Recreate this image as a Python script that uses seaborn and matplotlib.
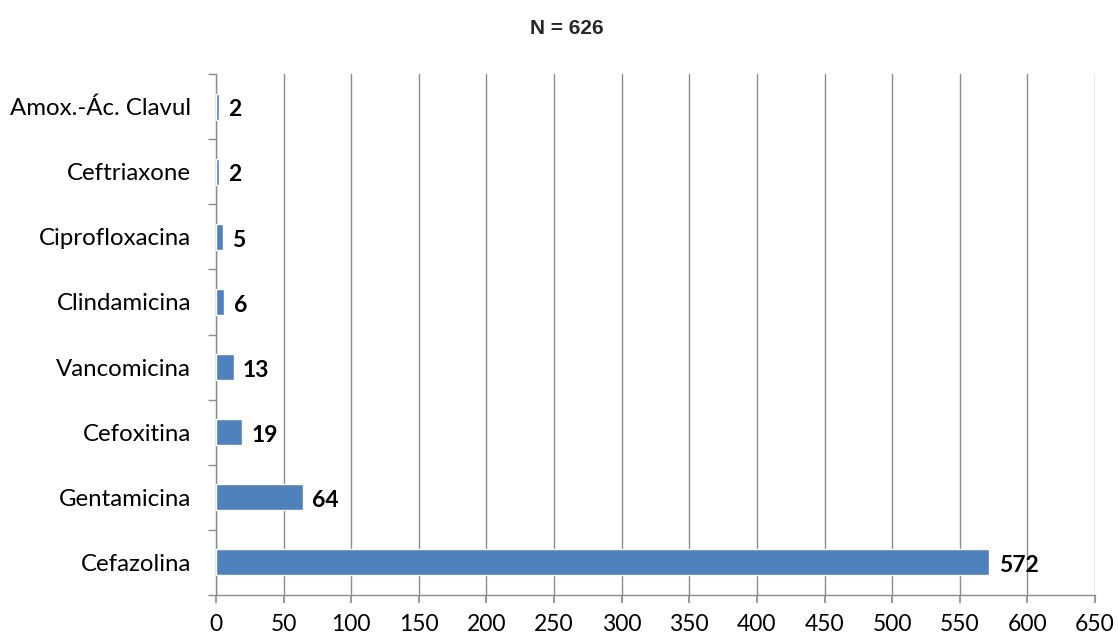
import matplotlib
matplotlib.use("Agg")
import matplotlib.pyplot as plt
import seaborn as sns
import pandas as pd
import numpy as np

categories = ["Amox.-Ác. Clavul", "Ceftriaxone", "Ciprofloxacina", "Clindamicina",
              "Vancomicina", "Cefoxitina", "Gentamicina", "Cefazolina"]
values = [2, 2, 5, 6, 13, 19, 64, 572]
title = "N = 626"
xticks = list(range(0, 651, 50))

sns.set_theme(style="white")
plt.rcParams['font.family'] = ['Lato', 'DejaVu Sans']

df = pd.DataFrame({"cat": categories, "val": values})

fig = plt.figure(figsize=(11.18, 6.38), dpi=100)
ax = fig.add_axes([0.1932, 0.0674, 0.9794 - 0.1932, 0.884 - 0.0674])
sns.barplot(data=df, x="val", y="cat", orient="h", color="#4F81BD",
            width=0.4, saturation=1, ax=ax, zorder=3)

ax.set_xlim(0, 650)
ax.set_ylim(len(categories) - 0.5, -0.5)
ax.set_xticks(xticks)
ax.set_xticklabels([str(t) for t in xticks], fontsize=16.5)
ax.set_yticks(range(len(categories)))
ax.set_yticklabels(categories, fontsize=17.3)
ax.set_xlabel("")
ax.set_ylabel("")

grid_color = "#8C8C8C"
ax.grid(axis="x", color=grid_color, linewidth=1, zorder=0)
ax.grid(axis="y", visible=False)
for s in ["top", "right"]:
    ax.spines[s].set_visible(False)
for s in ["left", "bottom"]:
    ax.spines[s].set_visible(True)
    ax.spines[s].set_color(grid_color)
    ax.spines[s].set_linewidth(1)

ax.tick_params(axis="x", which="major", length=6, color=grid_color, direction="out",
               bottom=True, pad=8, labelcolor="black")
ax.tick_params(axis="y", which="major", length=0, pad=18, labelcolor="black")
ax.set_yticks(np.arange(-0.5, len(categories), 1), minor=True)
ax.tick_params(axis="y", which="minor", length=6, color=grid_color, direction="out", left=True)

for i, v in enumerate(values):
    ax.text(v + 7, i + 0.05, str(v), va="center", ha="left", fontsize=16.5,
            fontweight="bold", color="black", zorder=4)

fig.text(0.507, 0.955, title, ha="center", va="center", fontsize=15,
         fontweight="bold", family=["Liberation Sans", "DejaVu Sans"])

fig.savefig("out.png", dpi=100)
